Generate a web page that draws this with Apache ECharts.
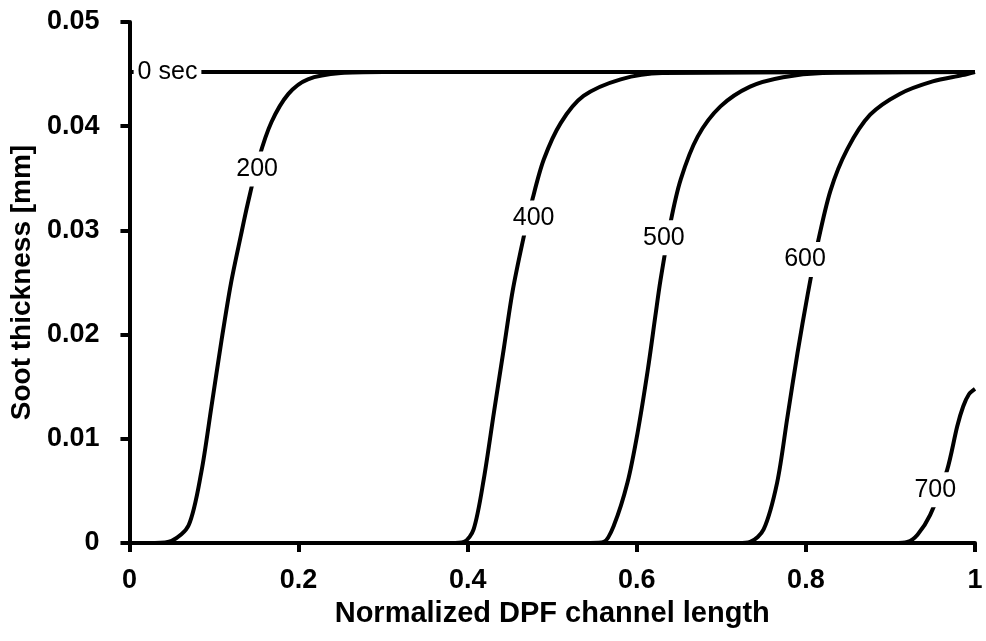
<!DOCTYPE html>
<html>
<head>
<meta charset="utf-8">
<script src="https://cdn.jsdelivr.net/npm/echarts@6/dist/echarts.min.js"></script>
<style>
  html, body { margin: 0; padding: 0; background: #fff; }
  #chart { width: 986px; height: 641px; }
</style>
</head>
<body>
<div id="chart"></div>
<script>
// soot layer profile along the channel at several times (sec)
const line0X = [0, 1]
const line0Y = [0.0452, 0.0452]

const t200X = [0, 0.03, 0.05, 0.07, 0.085, 0.097, 0.109, 0.12, 0.132, 0.14, 0.153, 0.168, 0.188, 0.211, 0.25, 0.3, 1]
const t200Y = [0, 0, 0.0002, 0.0017, 0.0068, 0.0131, 0.0195, 0.0249, 0.0296, 0.0326, 0.0369, 0.0404, 0.0431, 0.0445, 0.0451, 0.0452, 0.0452]

const t400X = [0, 0.38, 0.3955, 0.407, 0.419, 0.431, 0.443, 0.453, 0.465, 0.477, 0.49, 0.51, 0.537, 0.581, 0.63, 1]
const t400Y = [0, 0, 0.0001, 0.0013, 0.0061, 0.0125, 0.0188, 0.0241, 0.0289, 0.0331, 0.0368, 0.0403, 0.0429, 0.0445, 0.0451, 0.0452]

const t500X = [0, 0.545, 0.561, 0.573, 0.589, 0.601, 0.613, 0.622, 0.628, 0.64, 0.652, 0.672, 0.699, 0.734, 0.773, 0.82, 1]
const t500Y = [0, 0, 0.0001, 0.0017, 0.0058, 0.0106, 0.0166, 0.0218, 0.0252, 0.0308, 0.0349, 0.039, 0.0419, 0.0438, 0.0447, 0.0451, 0.0452]

const t600X = [0, 0.72, 0.734, 0.75, 0.766, 0.778, 0.79, 0.802, 0.813, 0.829, 0.849, 0.876, 0.911, 0.95, 0.985, 1]
const t600Y = [0, 0, 0.0001, 0.0013, 0.0058, 0.012, 0.0182, 0.0238, 0.0284, 0.0338, 0.0378, 0.0411, 0.0431, 0.0443, 0.0449, 0.0452]

const t700X = [0, 0.905, 0.92, 0.932, 0.947, 0.967, 0.979, 0.986, 0.993, 1]
const t700Y = [0, 0, 0.0001, 0.0008, 0.0027, 0.007, 0.0112, 0.0131, 0.0143, 0.0148]

// in-line curve labels
const labelText = ['0 sec', '200', '400', '500', '600', '700']
const labelX = [0.045, 0.151, 0.478, 0.632, 0.799, 0.953]
const labelY = [0.0452, 0.0359, 0.0312, 0.0293, 0.0272, 0.0051]

const chart = echarts.init(document.getElementById('chart'))

function pairs(xs, ys) {
  return xs.map((x, i) => [x, ys[i]])
}

function curve(name, xs, ys) {
  return {
    name: name,
    type: 'line',
    data: pairs(xs, ys),
    showSymbol: false,
    symbol: 'none',
    smooth: 0.3,
    lineStyle: { color: '#000', width: 4 },
    z: 3
  }
}

const axisFont = {
  color: '#000',
  fontSize: 27,
  fontWeight: 'bold',
  fontFamily: 'Liberation Sans'
}

const option = {
  backgroundColor: '#fff',
  animation: false,
  grid: {
    left: 128,
    right: 11,
    top: 22,
    bottom: 98
  },
  xAxis: {
    type: 'value',
    min: 0,
    max: 1,
    interval: 0.2,
    name: 'Normalized DPF channel length',
    nameLocation: 'middle',
    nameGap: 56,
    nameTextStyle: {
      color: '#000',
      fontSize: 29,
      fontWeight: 'bold',
      fontFamily: 'Liberation Sans'
    },
    axisLine: { lineStyle: { color: '#000', width: 4 } },
    axisTick: { inside: false, length: 9, lineStyle: { color: '#000', width: 4 } },
    axisLabel: Object.assign({ margin: 24 }, axisFont),
    splitLine: { show: false }
  },
  yAxis: {
    type: 'value',
    min: 0,
    max: 0.05,
    interval: 0.01,
    name: 'Soot thickness [mm]',
    nameLocation: 'middle',
    nameGap: 88,
    nameTextStyle: {
      color: '#000',
      fontSize: 28,
      fontWeight: 'bold',
      fontFamily: 'Liberation Sans'
    },
    axisLine: { show: true, lineStyle: { color: '#000', width: 4 } },
    axisTick: { show: true, inside: false, length: 9, lineStyle: { color: '#000', width: 4 } },
    axisLabel: Object.assign({ margin: 30 }, axisFont),
    splitLine: { show: false }
  },
  series: [
    curve('0 sec', line0X, line0Y),
    curve('200', t200X, t200Y),
    curve('400', t400X, t400Y),
    curve('500', t500X, t500Y),
    curve('600', t600X, t600Y),
    curve('700', t700X, t700Y),
    {
      name: 'labels',
      type: 'scatter',
      symbolSize: 1,
      itemStyle: { color: '#fff', opacity: 1 },
      data: labelText.map((t, i) => [labelX[i], labelY[i], t]),
      label: {
        show: true,
        position: 'inside',
        formatter: p => p.value[2],
        color: '#000',
        opacity: 1,
        fontSize: 25,
        fontFamily: 'Liberation Sans',
        backgroundColor: '#fff',
        padding: [5, 4]
      },
      z: 10,
      zlevel: 1
    }
  ]
}

chart.setOption(option)
</script>
</body>
</html>
